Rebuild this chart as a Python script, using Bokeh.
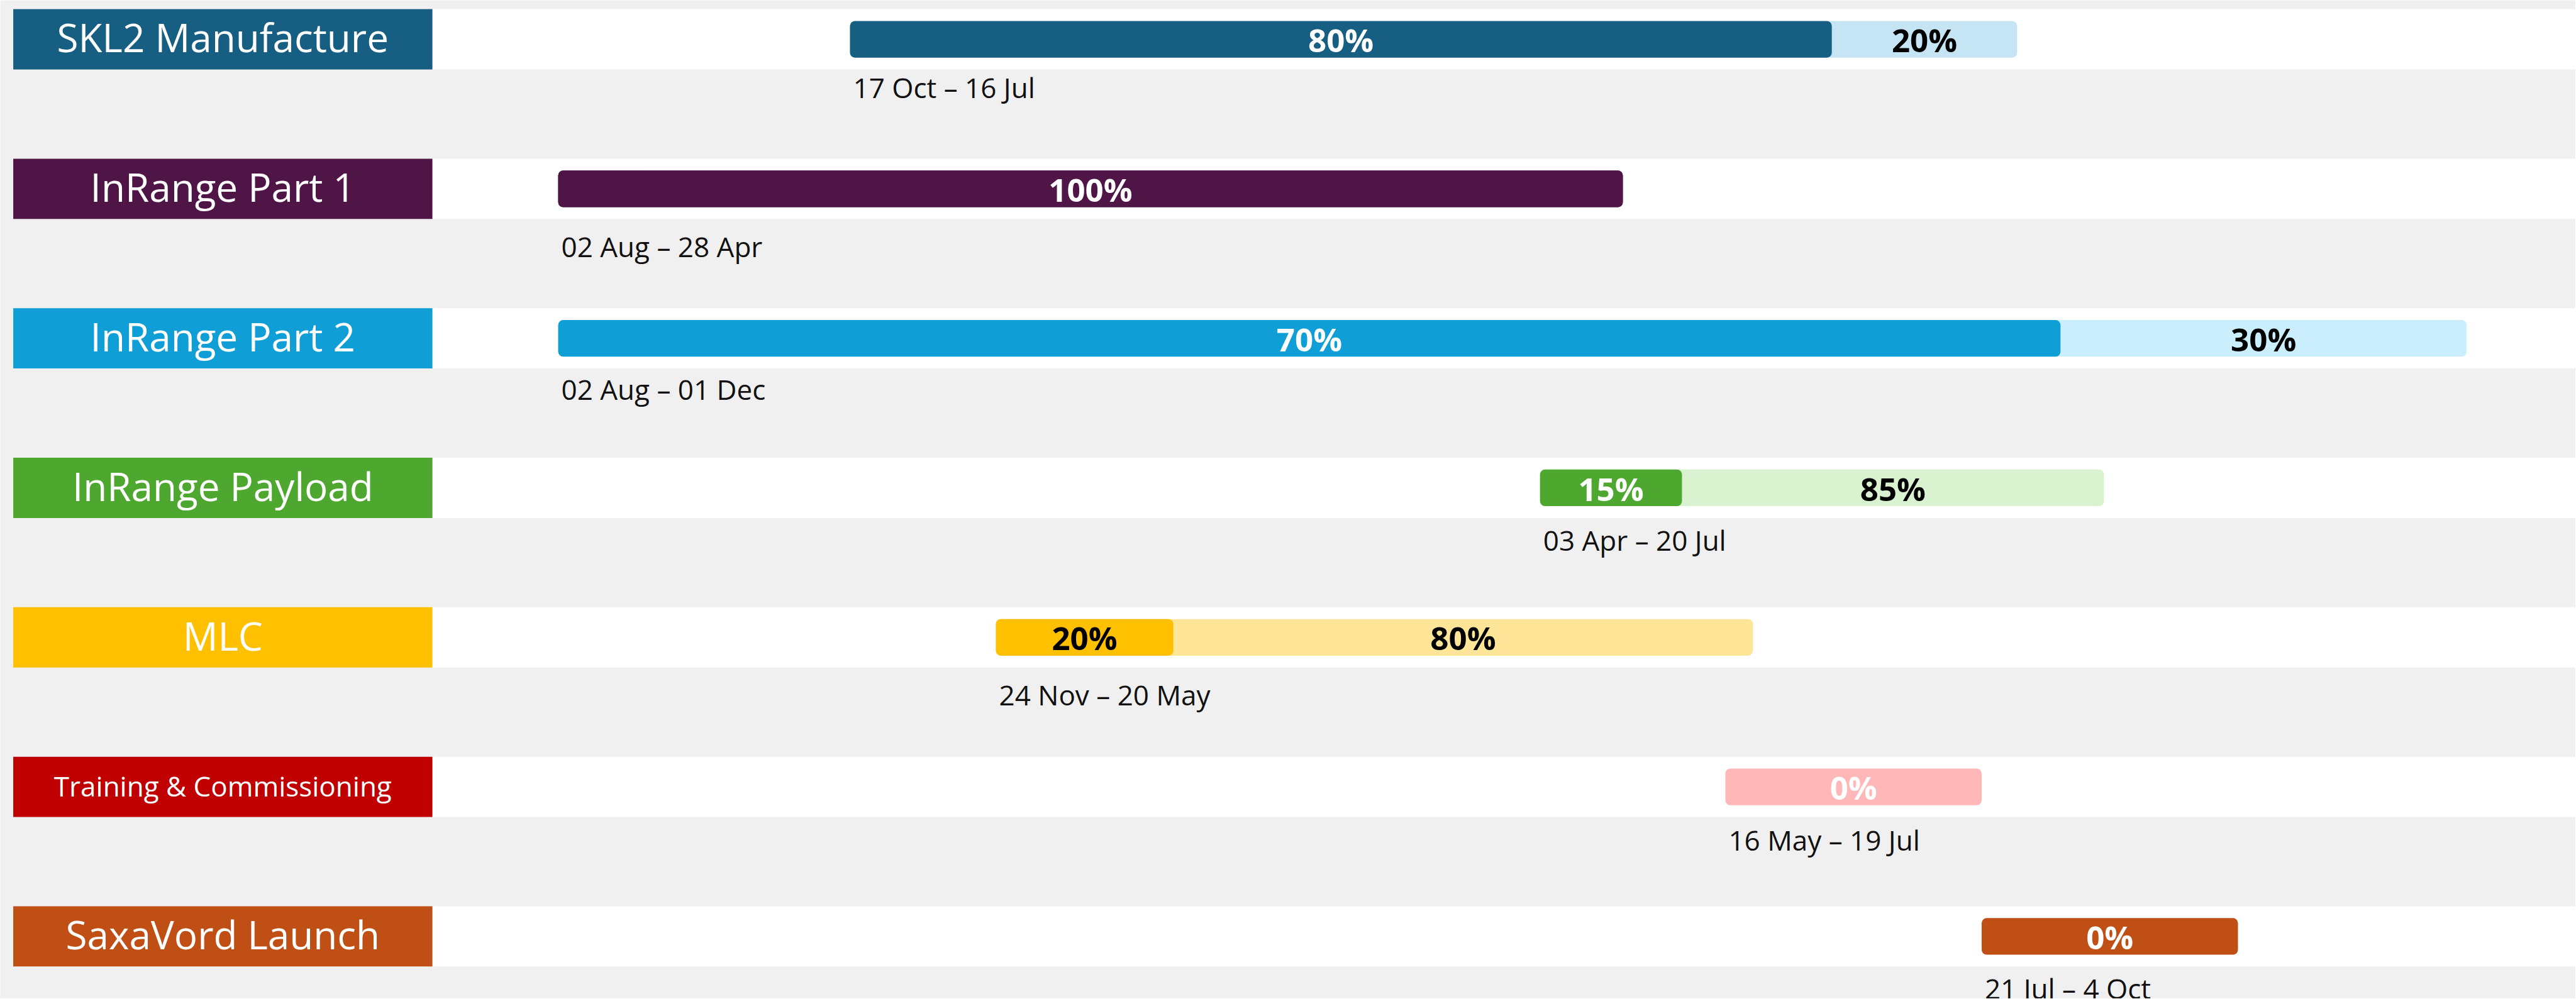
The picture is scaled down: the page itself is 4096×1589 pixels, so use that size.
from bokeh.plotting import figure
from bokeh.models import Range1d, ColumnDataSource
from bokeh.core.properties import value
from bokeh.embed import file_html
from bokeh.resources import INLINE

# ---------------- data ----------------
tasks = ["SKL2 Manufacture", "InRange Part 1", "InRange Part 2", "InRange Payload",
         "MLC", "Training & Commissioning", "SaxaVord Launch"]
date_labels = ["17 Oct \u2013 16 Jul", "02 Aug \u2013 28 Apr", "02 Aug \u2013 01 Dec",
               "03 Apr \u2013 20 Jul", "24 Nov \u2013 20 May", "16 May \u2013 19 Jul",
               "21 Jul \u2013 4 Oct"]
# bar positions as drawn, in days after 1 Aug
bar_start = [75, 1, 1, 250, 112, 297, 362]
progress_end = [324, 271, 382, 286, 157, 297, 362]
bar_end = [371, 271, 485, 393, 304, 362, 427]
done_pct = [80, 100, 70, 15, 20, 0, 0]

# ---------------- styles / layout ----------------
main_colors = ["#175F82", "#501547", "#0F9ED5", "#4EA72E", "#FFC000", "#C00000", "#C04F15"]
light_colors = ["#C5E4F4", "#501547", "#CAEEFB", "#D9F2D0", "#FFE597", "#FFB7B7", "#C04F15"]
done_text_colors = ["white", "white", "white", "white", "black", "white", "white"]
label_font_px = [62, 62, 62, 62, 62, 44, 62]
label_base_dy = [0.083, 0.083, 0.083, 0.083, 0.083, 0.061, 0.083]
date_base_dy = [0.391, 0.455, 0.407, 0.419, 0.451, 0.423, 0.415]

BG = "#F0F0F0"
X_START, X_END = -140.48, 512.65
Y_TOP, Y_BOTTOM = -0.2609, 6.4166
BOX_LEFT, BOX_RIGHT = -137.2, -30.9
BAND_H = 0.4032
BAR_H = 0.245
BAR_DY = 0.0
ROW_PX = 253 * 0.94
FIX = 0.37          # baseline correction, in em
PCT_PX = 51
DATE_PX = 44
PCT_DY = 0.082 - FIX * PCT_PX / ROW_PX

W, H = 4095, 1588
p = figure(width=W, height=H, x_range=Range1d(X_START, X_END),
           y_range=Range1d(Y_BOTTOM, Y_TOP), output_backend="svg",
           toolbar_location=None, min_border=0)
p.background_fill_color = BG
p.border_fill_color = BG
p.outline_line_color = None
p.axis.visible = False
p.grid.visible = False

rows = list(range(len(tasks)))

# white bands
p.hbar(y=rows, left=BOX_RIGHT, right=X_END + 20, height=BAND_H,
       fill_color="white", line_color=None)
# label boxes
p.hbar(y=rows, left=BOX_LEFT, right=BOX_RIGHT, height=BAND_H,
       fill_color=main_colors, line_color=None)
lab_src = ColumnDataSource(dict(
    x=[(BOX_LEFT + BOX_RIGHT) / 2] * len(tasks),
    y=[r + label_base_dy[r] - FIX * label_font_px[r] / ROW_PX for r in rows],
    t=tasks, fs=[f"{s}px" for s in label_font_px]))
p.text(x="x", y="y", text="t", source=lab_src, text_color="white",
       text_font=value("Open Sans"), text_font_size="fs",
       text_align="center", text_baseline="alphabetic")

# full bars (remaining part colour)
bar_y = [r + BAR_DY for r in rows]
p.hbar(y=bar_y, left=bar_start, right=bar_end, height=BAR_H,
       fill_color=light_colors, line_color=None, border_radius=8)
# progress bars
prog = [i for i in rows if done_pct[i] > 0]
p.hbar(y=[bar_y[i] for i in prog], left=[bar_start[i] for i in prog],
       right=[progress_end[i] for i in prog], height=BAR_H,
       fill_color=[main_colors[i] for i in prog], line_color=None, border_radius=8)

# percentage labels
px, py, pt, pc = [], [], [], []
for i in rows:
    d = done_pct[i]
    if d > 0:
        px.append((bar_start[i] + progress_end[i]) / 2)
        py.append(i + PCT_DY)
        pt.append(f"{d}%")
        pc.append(done_text_colors[i])
        if d < 100:
            px.append((progress_end[i] + bar_end[i]) / 2)
            py.append(i + PCT_DY)
            pt.append(f"{100 - d}%")
            pc.append("black")
    else:
        px.append((bar_start[i] + bar_end[i]) / 2)
        py.append(i + PCT_DY)
        pt.append("0%")
        pc.append("white")
p.text(x=px, y=py, text=pt, text_color=pc, text_font=value("Open Sans"),
       text_font_size=f"{PCT_PX}px", text_font_style="bold",
       text_align="center", text_baseline="alphabetic")

# date labels
p.text(x=bar_start, y=[r + date_base_dy[r] - FIX * DATE_PX / ROW_PX for r in rows],
       text=date_labels, text_color="#111111", text_font=value("Open Sans"),
       text_font_size=f"{DATE_PX}px", text_align="left", text_baseline="alphabetic",
       x_offset=5)

open("out.html", "w").write(file_html(p, INLINE))
